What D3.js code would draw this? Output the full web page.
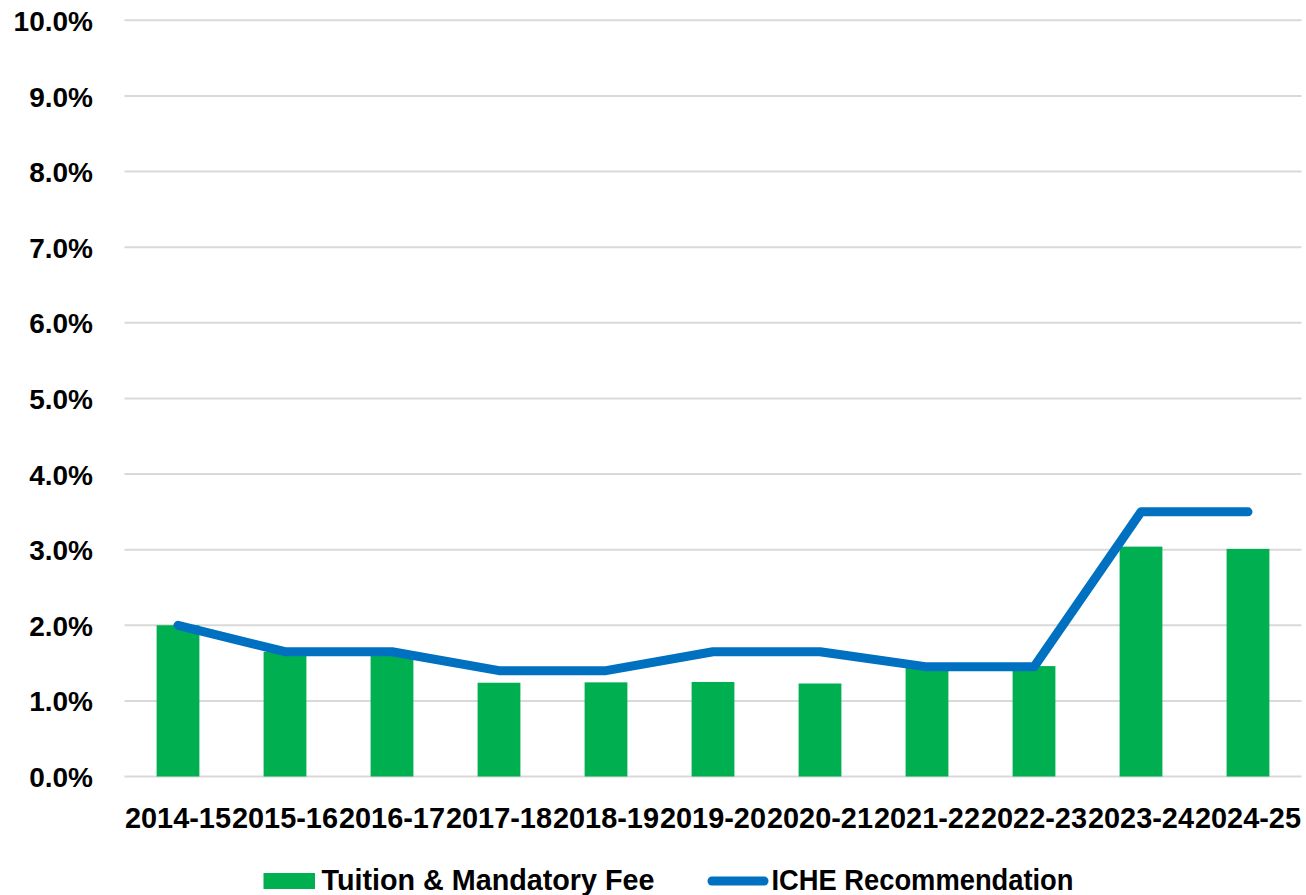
<!DOCTYPE html>
<html>
<head>
<meta charset="utf-8">
<script src="https://cdn.jsdelivr.net/npm/d3@7"></script>
<style>
  html, body { margin: 0; padding: 0; background: #fff; }
  svg text { font-family: "Liberation Sans", Arial, sans-serif; font-weight: bold; fill: #000; }
</style>
</head>
<body>
<svg id="chart" width="1306" height="895"></svg>
<script>
const categories = ["2014-15","2015-16","2016-17","2017-18","2018-19","2019-20","2020-21","2021-22","2022-23","2023-24","2024-25"];
const tuitionFee = [2.00, 1.65, 1.65, 1.24, 1.245, 1.25, 1.23, 1.45, 1.46, 3.04, 3.01];
const icheRec = [2.00, 1.65, 1.65, 1.40, 1.40, 1.65, 1.65, 1.45, 1.45, 3.50, 3.50];
const yTicks = [0,1,2,3,4,5,6,7,8,9,10];
const seriesNames = ["Tuition & Mandatory Fee", "ICHE Recommendation"];

const svg = d3.select("#chart");
const plotLeft = 124.5, plotRight = 1301.5, plotTop = 20.3, plotBottom = 776.5;

const x = d3.scaleBand().domain(categories).range([plotLeft, plotRight]).paddingInner(0.6).paddingOuter(0.3);
const y = d3.scaleLinear().domain([0, 10]).range([plotBottom, plotTop]);

// gridlines
svg.append("g").selectAll("line").data(yTicks).join("line")
  .attr("x1", plotLeft).attr("x2", plotRight)
  .attr("y1", d => y(d)).attr("y2", d => y(d))
  .attr("stroke", "#d9d9d9").attr("stroke-width", 2);

// y axis labels
const yAxis = d3.axisLeft(y).tickValues(yTicks).tickFormat(d => d.toFixed(1) + "%").tickSize(0).tickPadding(0);
const yg = svg.append("g").attr("transform", "translate(93,0)").call(yAxis);
yg.select(".domain").remove();
yg.selectAll("text").attr("font-size", 28).attr("font-family", null).attr("dy", "0.36em");

// bars
svg.append("g").selectAll("rect").data(tuitionFee).join("rect")
  .attr("x", (d, i) => x(categories[i]))
  .attr("width", x.bandwidth())
  .attr("y", d => y(d))
  .attr("height", d => y(0) - y(d))
  .attr("fill", "#00B050");

// line
const line = d3.line()
  .x((d, i) => x(categories[i]) + x.bandwidth() / 2)
  .y(d => y(d));
svg.append("path").datum(icheRec)
  .attr("d", line)
  .attr("fill", "none")
  .attr("stroke", "#0070C0")
  .attr("stroke-width", 9)
  .attr("stroke-linecap", "round")
  .attr("stroke-linejoin", "round");

// x axis labels
const xAxis = d3.axisBottom(x).tickSize(0).tickPadding(0);
const xg = svg.append("g").attr("transform", "translate(0,828)").call(xAxis);
xg.select(".domain").remove();
xg.selectAll("text")
  .attr("font-size", 29).attr("font-family", null)
  .attr("dy", 0).attr("y", 0)
  .attr("textLength", 106).attr("lengthAdjust", "spacingAndGlyphs");

// legend
const lg = svg.append("g");
lg.append("rect").attr("x", 263.5).attr("y", 873).attr("width", 51.5).attr("height", 16).attr("fill", "#00B050");
lg.append("text").attr("x", 321.5).attr("y", 889.5).attr("font-size", 29)
  .attr("textLength", 333).attr("lengthAdjust", "spacingAndGlyphs").text(seriesNames[0]);
lg.append("line").attr("x1", 712).attr("x2", 764).attr("y1", 881).attr("y2", 881)
  .attr("stroke", "#0070C0").attr("stroke-width", 9).attr("stroke-linecap", "round");
lg.append("text").attr("x", 771.5).attr("y", 889.5).attr("font-size", 29)
  .attr("textLength", 302).attr("lengthAdjust", "spacingAndGlyphs").text(seriesNames[1]);
</script>
</body>
</html>
